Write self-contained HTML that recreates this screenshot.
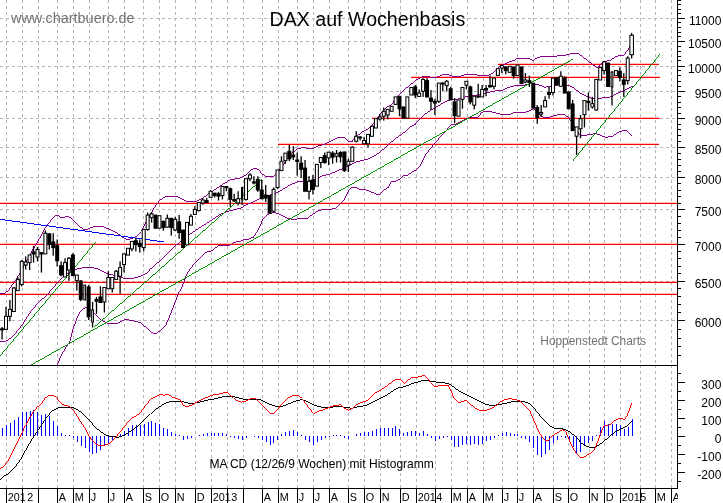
<!DOCTYPE html>
<html lang="de"><head><meta charset="utf-8"><title>DAX auf Wochenbasis</title>
<style>html,body{margin:0;padding:0;background:#fff;overflow:hidden}svg{display:block}text{will-change:transform}</style></head>
<body>
<svg width="723" height="503" viewBox="0 0 723 503" font-family='"Liberation Sans", sans-serif'>
<rect width="723" height="503" fill="#fff"/>
<g stroke="#b4b4b4" stroke-width="1" stroke-dasharray="3 3" fill="none" shape-rendering="crispEdges">
<path d="M6.5 0V365M6.5 365V488.4"/>
<path d="M22.5 0V365M22.5 365V488.4"/>
<path d="M38.5 0V365M38.5 365V488.4"/>
<path d="M57.5 0V365M57.5 365V488.4"/>
<path d="M73.5 0V365M73.5 365V488.4"/>
<path d="M89.5 0V365M89.5 365V488.4"/>
<path d="M108.5 0V365M108.5 365V488.4"/>
<path d="M124.5 0V365M124.5 365V488.4"/>
<path d="M143.5 0V365M143.5 365V488.4"/>
<path d="M159.5 0V365M159.5 365V488.4"/>
<path d="M175.5 0V365M175.5 365V488.4"/>
<path d="M195.5 0V365M195.5 365V488.4"/>
<path d="M211.5 0V365M211.5 365V488.4"/>
<path d="M227.5 0V365M227.5 365V488.4"/>
<path d="M243.5 0V365M243.5 365V488.4"/>
<path d="M262.5 0V365M262.5 365V488.4"/>
<path d="M278.5 0V365M278.5 365V488.4"/>
<path d="M297.5 0V365M297.5 365V488.4"/>
<path d="M313.5 0V365M313.5 365V488.4"/>
<path d="M329.5 0V365M329.5 365V488.4"/>
<path d="M348.5 0V365M348.5 365V488.4"/>
<path d="M364.5 0V365M364.5 365V488.4"/>
<path d="M380.5 0V365M380.5 365V488.4"/>
<path d="M400.5 0V365M400.5 365V488.4"/>
<path d="M416.5 0V365M416.5 365V488.4"/>
<path d="M435.5 0V365M435.5 365V488.4"/>
<path d="M451.5 0V365M451.5 365V488.4"/>
<path d="M467.5 0V365M467.5 365V488.4"/>
<path d="M483.5 0V365M483.5 365V488.4"/>
<path d="M502.5 0V365M502.5 365V488.4"/>
<path d="M517.5 0V365M517.5 365V488.4"/>
<path d="M533.5 0V365M533.5 365V488.4"/>
<path d="M553.5 0V365M553.5 365V488.4"/>
<path d="M568.5 0V365M568.5 365V488.4"/>
<path d="M589.5 0V365M589.5 365V488.4"/>
<path d="M604.5 0V365M604.5 365V488.4"/>
<path d="M620.5 0V365M620.5 365V488.4"/>
<path d="M640.5 0V365M640.5 365V488.4"/>
<path d="M655.5 0V365M655.5 365V488.4"/>
<path d="M671.5 0V365M671.5 365V488.4"/>
<path d="M0 18.5H676.5"/>
<path d="M0 41.5H676.5"/>
<path d="M0 66.5H676.5"/>
<path d="M0 91.5H676.5"/>
<path d="M0 118.5H676.5"/>
<path d="M0 147.5H676.5"/>
<path d="M0 177.5H676.5"/>
<path d="M0 209.5H676.5"/>
<path d="M0 244.5H676.5"/>
<path d="M0 281.5H676.5"/>
<path d="M0 320.5H676.5"/>
</g>
<defs><clipPath id="cp"><rect x="0" y="0" width="677.0" height="365.2"/></clipPath><clipPath id="cm"><rect x="0" y="365.2" width="677.0" height="123.2"/></clipPath></defs>
<g clip-path="url(#cp)">
<g stroke="#ff0000" stroke-width="1.2" fill="none">
<path d="M498 64.45H659"/>
<path d="M411 77.45H660"/>
<path d="M372 118.45H659.5"/>
<path d="M278 144.45H659"/>
<path d="M0 203.45H677.5"/>
<path d="M0 244.45H677.5"/>
<path d="M0 282.45H677.5"/>
<path d="M0 294.45H677.5"/>
</g>
<path d="M631 42.5h1M631 43.5h1M630 44.5h1M630 45.5h1M629 46.5h1M629 47.5h1M628 48.5h1M628 49.5h1M627 50.5h1M626 51.5h1M625 52.5h1M570 53.5h9M625 53.5h1M566 54.5h4M579 54.5h1M624 54.5h1M557 55.5h9M580 55.5h2M618 55.5h6M540 56.5h17M582 56.5h1M615 56.5h3M537 57.5h3M583 57.5h1M614 57.5h1M516 58.5h14M535 58.5h2M584 58.5h2M612 58.5h2M515 59.5h1M530 59.5h2M534 59.5h1M586 59.5h1M611 59.5h1M512 60.5h3M532 60.5h2M587 60.5h1M607 60.5h4M509 61.5h3M588 61.5h1M603 61.5h4M507 62.5h2M589 62.5h2M602 62.5h1M505 63.5h2M591 63.5h1M601 63.5h1M503 64.5h2M592 64.5h1M600 64.5h1M501 65.5h2M593 65.5h2M599 65.5h1M499 66.5h2M595 66.5h1M598 66.5h2M498 67.5h1M596 67.5h2M497 68.5h1M496 69.5h1M495 70.5h1M494 71.5h1M493 72.5h1M491 73.5h2M442 74.5h7M464 74.5h13M489 74.5h2M440 75.5h2M449 75.5h3M461 75.5h3M477 75.5h12M422 76.5h8M437 76.5h3M452 76.5h9M420 77.5h2M430 77.5h7M418 78.5h2M416 79.5h2M415 80.5h1M414 81.5h1M413 82.5h1M411 83.5h2M410 84.5h1M409 85.5h1M408 86.5h1M406 87.5h2M405 88.5h1M404 89.5h1M403 90.5h1M402 91.5h1M401 92.5h1M400 93.5h1M399 94.5h1M398 95.5h1M397 96.5h1M396 97.5h1M395 98.5h1M395 99.5h1M394 100.5h1M393 101.5h1M393 102.5h1M392 103.5h1M391 104.5h1M389 105.5h2M387 106.5h2M386 107.5h1M385 108.5h1M384 109.5h1M383 110.5h1M382 111.5h1M381 112.5h1M380 113.5h1M379 114.5h1M379 115.5h1M378 116.5h1M377 117.5h1M376 118.5h1M376 119.5h1M375 120.5h1M374 121.5h1M374 122.5h1M373 123.5h1M372 124.5h1M371 125.5h2M370 126.5h1M369 127.5h1M368 128.5h1M366 129.5h2M364 130.5h2M362 131.5h2M361 132.5h1M360 133.5h1M358 134.5h2M357 135.5h1M356 136.5h1M337 137.5h8M355 137.5h1M335 138.5h2M345 138.5h1M354 138.5h1M333 139.5h2M346 139.5h1M353 139.5h1M331 140.5h2M347 140.5h1M352 140.5h1M329 141.5h2M348 141.5h5M327 142.5h2M325 143.5h2M322 144.5h3M318 145.5h4M316 146.5h2M301 147.5h5M314 147.5h2M297 148.5h4M306 148.5h8M296 149.5h1M295 150.5h1M293 151.5h2M292 152.5h1M291 153.5h1M290 154.5h1M290 155.5h1M289 156.5h1M288 157.5h1M287 158.5h1M286 159.5h1M286 160.5h1M285 161.5h1M284 162.5h1M284 163.5h1M283 164.5h1M282 165.5h1M281 166.5h1M281 167.5h1M253 168.5h4M280 168.5h1M251 169.5h2M257 169.5h2M279 169.5h1M250 170.5h1M259 170.5h1M279 170.5h1M249 171.5h1M260 171.5h1M278 171.5h1M248 172.5h1M260 172.5h1M277 172.5h1M247 173.5h1M261 173.5h1M276 173.5h2M246 174.5h1M262 174.5h2M275 174.5h1M244 175.5h2M264 175.5h1M274 175.5h1M242 176.5h2M265 176.5h9M240 177.5h2M235 178.5h5M230 179.5h5M228 180.5h2M227 181.5h1M225 182.5h2M223 183.5h2M222 184.5h1M220 185.5h2M219 186.5h1M217 187.5h2M216 188.5h1M214 189.5h2M213 190.5h1M211 191.5h2M210 192.5h1M208 193.5h2M207 194.5h1M206 195.5h1M165 196.5h13M204 196.5h2M163 197.5h2M178 197.5h2M203 197.5h1M162 198.5h1M180 198.5h2M201 198.5h2M160 199.5h2M182 199.5h2M199 199.5h2M159 200.5h1M184 200.5h2M197 200.5h2M158 201.5h1M186 201.5h11M158 202.5h1M157 203.5h1M156 204.5h1M155 205.5h1M155 206.5h1M154 207.5h1M153 208.5h1M153 209.5h1M152 210.5h1M152 211.5h1M151 212.5h1M150 213.5h1M150 214.5h1M55 215.5h4M149 215.5h1M54 216.5h1M59 216.5h1M65 216.5h4M149 216.5h1M53 217.5h1M60 217.5h5M69 217.5h2M148 217.5h1M52 218.5h1M71 218.5h1M148 218.5h1M51 219.5h1M72 219.5h1M147 219.5h1M50 220.5h1M73 220.5h1M146 220.5h1M50 221.5h1M74 221.5h1M146 221.5h1M49 222.5h1M75 222.5h1M145 222.5h1M48 223.5h1M76 223.5h1M145 223.5h1M47 224.5h1M77 224.5h1M144 224.5h1M46 225.5h1M78 225.5h1M144 225.5h1M46 226.5h1M79 226.5h1M93 226.5h11M143 226.5h1M45 227.5h1M80 227.5h2M90 227.5h3M104 227.5h2M143 227.5h1M44 228.5h1M82 228.5h1M88 228.5h2M106 228.5h3M142 228.5h1M44 229.5h1M83 229.5h5M109 229.5h2M142 229.5h1M43 230.5h1M111 230.5h2M141 230.5h1M43 231.5h1M113 231.5h2M42 232.5h1M115 232.5h2M140 232.5h1M42 233.5h1M117 233.5h1M139 233.5h1M41 234.5h1M118 234.5h2M138 234.5h1M41 235.5h1M120 235.5h1M137 235.5h1M40 236.5h1M121 236.5h1M135 236.5h2M40 237.5h1M122 237.5h2M133 237.5h2M39 238.5h1M124 238.5h2M130 238.5h3M38 239.5h1M126 239.5h4M38 240.5h1M37 241.5h1M37 242.5h1M36 243.5h1M36 244.5h1M35 245.5h1M34 246.5h1M34 247.5h1M33 248.5h1M32 249.5h1M32 250.5h1M31 251.5h1M31 252.5h1M30 253.5h1M30 254.5h1M29 255.5h1M29 256.5h1M28 257.5h1M28 258.5h1M27 259.5h1M26 260.5h1M26 261.5h1M25 262.5h1M25 263.5h1M24 264.5h1M24 265.5h1M23 266.5h1M23 267.5h1M22 268.5h1M21 269.5h1M21 270.5h1M20 271.5h1M20 272.5h1M19 273.5h1M19 274.5h1M18 275.5h1M17 276.5h1M17 277.5h1M16 278.5h1M16 279.5h1M15 280.5h1M14 281.5h1M14 282.5h1M13 283.5h1M12 284.5h1M11 285.5h1M11 286.5h1M10 287.5h1M9 288.5h1M9 289.5h1M8 290.5h1M6 291.5h2M5 292.5h1M0 293.5h5" stroke="#880088" stroke-width="1" fill="none" shape-rendering="crispEdges"/>
<path d="M529 83.5h6M525 84.5h4M535 84.5h4M558 84.5h6M514 85.5h11M539 85.5h3M552 85.5h6M564 85.5h6M510 86.5h4M542 86.5h2M546 86.5h6M570 86.5h2M631 86.5h2M507 87.5h3M544 87.5h2M572 87.5h2M629 87.5h2M505 88.5h2M574 88.5h1M627 88.5h2M503 89.5h2M575 89.5h1M625 89.5h2M495 90.5h8M576 90.5h2M623 90.5h2M490 91.5h5M578 91.5h1M620 91.5h3M486 92.5h4M579 92.5h1M618 92.5h2M481 93.5h5M580 93.5h2M616 93.5h2M477 94.5h4M582 94.5h2M614 94.5h2M472 95.5h5M584 95.5h2M613 95.5h1M465 96.5h7M586 96.5h2M610 96.5h3M461 97.5h4M588 97.5h3M602 97.5h8M458 98.5h3M591 98.5h11M450 99.5h8M447 100.5h3M445 101.5h2M443 102.5h2M441 103.5h2M440 104.5h1M438 105.5h2M436 106.5h2M435 107.5h1M433 108.5h2M431 109.5h2M430 110.5h1M428 111.5h2M427 112.5h1M425 113.5h2M424 114.5h1M423 115.5h1M422 116.5h1M421 117.5h1M420 118.5h1M419 119.5h1M418 120.5h1M417 121.5h1M416 122.5h1M415 123.5h1M414 124.5h2M412 125.5h2M410 126.5h2M409 127.5h1M408 128.5h1M407 129.5h1M406 130.5h1M405 131.5h1M403 132.5h2M402 133.5h1M401 134.5h1M399 135.5h2M398 136.5h1M396 137.5h2M395 138.5h1M394 139.5h1M393 140.5h1M391 141.5h2M390 142.5h1M389 143.5h1M388 144.5h1M387 145.5h1M386 146.5h1M385 147.5h1M384 148.5h1M382 149.5h2M381 150.5h1M380 151.5h1M379 152.5h1M377 153.5h2M376 154.5h1M374 155.5h2M372 156.5h2M370 157.5h2M368 158.5h2M364 159.5h4M360 160.5h4M356 161.5h4M354 162.5h2M352 163.5h2M350 164.5h2M348 165.5h2M346 166.5h2M344 167.5h2M342 168.5h2M339 169.5h3M337 170.5h2M335 171.5h2M332 172.5h3M330 173.5h2M326 174.5h4M322 175.5h4M320 176.5h2M317 177.5h3M315 178.5h2M313 179.5h2M309 180.5h4M297 181.5h12M295 182.5h2M292 183.5h3M290 184.5h2M288 185.5h2M287 186.5h1M285 187.5h2M283 188.5h2M282 189.5h1M280 190.5h2M278 191.5h2M276 192.5h2M274 193.5h2M270 194.5h4M266 195.5h4M263 196.5h3M261 197.5h2M259 198.5h2M257 199.5h2M255 200.5h2M253 201.5h2M251 202.5h2M248 203.5h3M246 204.5h2M244 205.5h2M243 206.5h1M241 207.5h2M237 208.5h4M233 209.5h4M229 210.5h4M226 211.5h3M224 212.5h2M221 213.5h3M219 214.5h2M218 215.5h1M216 216.5h2M215 217.5h1M213 218.5h2M212 219.5h1M210 220.5h2M209 221.5h1M207 222.5h2M206 223.5h1M204 224.5h2M202 225.5h2M201 226.5h1M199 227.5h2M198 228.5h1M196 229.5h2M195 230.5h1M193 231.5h2M192 232.5h1M190 233.5h2M188 234.5h2M187 235.5h1M186 236.5h1M185 237.5h1M184 238.5h1M182 239.5h2M181 240.5h1M180 241.5h1M179 242.5h1M178 243.5h1M176 244.5h2M175 245.5h1M174 246.5h1M173 247.5h1M172 248.5h1M171 249.5h1M170 250.5h1M169 251.5h1M168 252.5h1M167 253.5h1M166 254.5h1M165 255.5h1M164 256.5h1M163 257.5h1M162 258.5h1M161 259.5h1M160 260.5h1M159 261.5h1M157 262.5h2M156 263.5h1M155 264.5h1M154 265.5h1M153 266.5h1M82 267.5h12M152 267.5h1M77 268.5h5M94 268.5h4M150 268.5h2M75 269.5h2M98 269.5h2M149 269.5h1M72 270.5h3M100 270.5h2M149 270.5h1M70 271.5h2M102 271.5h2M148 271.5h1M69 272.5h1M104 272.5h2M147 272.5h1M67 273.5h2M106 273.5h3M145 273.5h2M66 274.5h1M109 274.5h4M143 274.5h2M65 275.5h1M113 275.5h3M141 275.5h2M63 276.5h2M116 276.5h4M138 276.5h3M62 277.5h1M120 277.5h3M134 277.5h4M61 278.5h1M123 278.5h11M60 279.5h1M59 280.5h1M58 281.5h1M57 282.5h1M56 283.5h1M55 284.5h1M55 285.5h1M54 286.5h1M53 287.5h1M52 288.5h1M51 289.5h1M50 290.5h1M49 291.5h1M49 292.5h1M48 293.5h1M47 294.5h1M46 295.5h1M45 296.5h1M44 297.5h1M42 298.5h2M41 299.5h1M40 300.5h1M39 301.5h1M38 302.5h1M37 303.5h1M36 304.5h1M35 305.5h1M35 306.5h1M34 307.5h1M33 308.5h1M32 309.5h1M31 310.5h1M30 311.5h1M30 312.5h1M29 313.5h1M28 314.5h1M28 315.5h1M27 316.5h1M26 317.5h1M26 318.5h1M25 319.5h1M24 320.5h1M24 321.5h1M23 322.5h1M23 323.5h1M22 324.5h1M21 325.5h1M20 326.5h1M20 327.5h1M19 328.5h1M18 329.5h1M17 330.5h1M16 331.5h1M16 332.5h1M15 333.5h1M14 334.5h1M13 335.5h1M12 336.5h1M11 337.5h1M9 338.5h2M8 339.5h1M6 340.5h2M0 341.5h6" stroke="#880088" stroke-width="1" fill="none" shape-rendering="crispEdges"/>
<path d="M533 108.5h1M531 109.5h2M534 109.5h1M529 110.5h2M535 110.5h1M483 111.5h9M526 111.5h3M536 111.5h1M481 112.5h2M492 112.5h4M513 112.5h13M537 112.5h1M480 113.5h1M496 113.5h4M511 113.5h2M538 113.5h1M480 114.5h1M500 114.5h11M539 114.5h1M557 114.5h8M479 115.5h1M540 115.5h1M553 115.5h4M565 115.5h1M478 116.5h1M541 116.5h2M550 116.5h3M566 116.5h2M468 117.5h10M543 117.5h7M568 117.5h1M466 118.5h2M569 118.5h1M464 119.5h2M569 119.5h1M462 120.5h2M570 120.5h1M460 121.5h2M571 121.5h1M458 122.5h2M571 122.5h1M456 123.5h2M572 123.5h1M451 124.5h5M572 124.5h1M450 125.5h1M573 125.5h1M449 126.5h1M574 126.5h1M448 127.5h1M574 127.5h1M447 128.5h1M575 128.5h1M447 129.5h1M576 129.5h1M446 130.5h1M576 130.5h1M622 130.5h5M445 131.5h1M577 131.5h1M619 131.5h3M627 131.5h1M444 132.5h1M578 132.5h1M617 132.5h2M628 132.5h1M443 133.5h1M578 133.5h1M593 133.5h4M616 133.5h1M629 133.5h1M442 134.5h1M579 134.5h1M587 134.5h6M597 134.5h3M614 134.5h2M630 134.5h1M441 135.5h1M580 135.5h7M600 135.5h2M613 135.5h1M631 135.5h1M440 136.5h1M602 136.5h3M608 136.5h5M439 137.5h1M605 137.5h3M438 138.5h1M438 139.5h1M437 140.5h1M436 141.5h1M435 142.5h1M434 143.5h1M433 144.5h1M432 145.5h1M432 146.5h1M431 147.5h1M430 148.5h1M429 149.5h1M428 150.5h1M428 151.5h1M427 152.5h1M426 153.5h1M425 154.5h1M425 155.5h1M424 156.5h1M424 157.5h1M423 158.5h1M423 159.5h1M422 160.5h1M422 161.5h1M421 162.5h1M421 163.5h1M420 164.5h1M420 165.5h1M419 166.5h1M418 167.5h1M417 168.5h1M416 169.5h1M414 170.5h2M412 171.5h2M411 172.5h1M409 173.5h2M408 174.5h1M403 175.5h5M402 176.5h1M401 177.5h1M400 178.5h1M398 179.5h2M396 180.5h2M391 181.5h5M390 182.5h1M390 183.5h1M389 184.5h1M389 185.5h1M388 186.5h1M351 187.5h6M387 187.5h2M350 188.5h1M357 188.5h2M386 188.5h1M349 189.5h1M359 189.5h7M384 189.5h2M348 190.5h1M366 190.5h3M383 190.5h1M348 191.5h1M369 191.5h2M382 191.5h1M347 192.5h1M371 192.5h3M381 192.5h1M347 193.5h1M374 193.5h2M380 193.5h1M346 194.5h1M376 194.5h4M346 195.5h1M345 196.5h1M345 197.5h1M344 198.5h1M344 199.5h1M343 200.5h1M342 201.5h1M341 202.5h1M340 203.5h1M339 204.5h1M338 205.5h1M337 206.5h1M336 207.5h1M332 208.5h4M321 209.5h11M318 210.5h3M316 211.5h2M272 212.5h4M315 212.5h1M269 213.5h3M276 213.5h3M313 213.5h2M267 214.5h2M279 214.5h2M312 214.5h1M266 215.5h1M281 215.5h2M310 215.5h2M265 216.5h1M283 216.5h2M309 216.5h1M264 217.5h1M285 217.5h2M308 217.5h1M263 218.5h1M287 218.5h4M297 218.5h11M262 219.5h1M291 219.5h6M262 220.5h1M261 221.5h1M261 222.5h1M261 223.5h1M260 224.5h1M260 225.5h1M259 226.5h1M259 227.5h1M258 228.5h1M258 229.5h1M257 230.5h1M257 231.5h1M256 232.5h1M255 233.5h1M255 234.5h1M254 235.5h1M253 236.5h1M251 237.5h3M249 238.5h2M243 239.5h6M241 240.5h2M236 241.5h5M233 242.5h3M232 243.5h1M230 244.5h2M218 245.5h12M217 246.5h1M215 247.5h2M214 248.5h1M213 249.5h1M211 250.5h2M207 251.5h4M205 252.5h2M204 253.5h1M203 254.5h1M202 255.5h1M201 256.5h1M200 257.5h1M199 258.5h1M198 259.5h1M197 260.5h1M196 261.5h1M195 262.5h1M194 263.5h1M193 264.5h1M192 265.5h1M192 266.5h1M191 267.5h1M190 268.5h1M189 269.5h1M189 270.5h1M188 271.5h1M187 272.5h1M187 273.5h1M186 274.5h1M186 275.5h1M185 276.5h1M185 277.5h1M185 278.5h1M184 279.5h1M184 280.5h1M184 281.5h1M183 282.5h1M183 283.5h1M182 284.5h1M182 285.5h1M182 286.5h1M181 287.5h1M181 288.5h1M180 289.5h1M180 290.5h1M179 291.5h1M178 292.5h1M178 293.5h1M177 294.5h1M177 295.5h1M177 296.5h1M176 297.5h1M176 298.5h1M176 299.5h1M175 300.5h1M175 301.5h1M174 302.5h1M174 303.5h1M174 304.5h1M173 305.5h1M173 306.5h1M85 307.5h3M173 307.5h1M83 308.5h2M88 308.5h1M172 308.5h1M82 309.5h1M89 309.5h2M172 309.5h1M81 310.5h1M91 310.5h1M171 310.5h1M80 311.5h1M92 311.5h1M171 311.5h1M79 312.5h1M93 312.5h1M171 312.5h1M79 313.5h1M94 313.5h1M170 313.5h1M78 314.5h1M95 314.5h1M170 314.5h1M78 315.5h1M96 315.5h1M169 315.5h1M77 316.5h1M97 316.5h1M169 316.5h1M77 317.5h1M98 317.5h1M169 317.5h1M76 318.5h1M99 318.5h1M168 318.5h1M76 319.5h1M100 319.5h1M124 319.5h5M168 319.5h1M76 320.5h1M101 320.5h2M122 320.5h2M129 320.5h5M167 320.5h1M75 321.5h1M103 321.5h2M120 321.5h2M134 321.5h4M167 321.5h1M75 322.5h1M105 322.5h2M118 322.5h2M138 322.5h3M166 322.5h1M75 323.5h1M107 323.5h11M141 323.5h1M166 323.5h1M74 324.5h1M142 324.5h1M166 324.5h1M74 325.5h1M143 325.5h1M165 325.5h1M73 326.5h1M144 326.5h2M164 326.5h1M73 327.5h1M146 327.5h1M163 327.5h1M73 328.5h1M147 328.5h1M162 328.5h1M72 329.5h1M148 329.5h1M161 329.5h1M72 330.5h1M149 330.5h1M160 330.5h1M72 331.5h1M150 331.5h1M158 331.5h2M72 332.5h1M151 332.5h2M157 332.5h1M71 333.5h1M153 333.5h4M71 334.5h1M71 335.5h1M71 336.5h1M70 337.5h1M70 338.5h1M70 339.5h1M70 340.5h1M69 341.5h1M69 342.5h1M68 343.5h1M67 344.5h1M67 345.5h1M66 346.5h1M65 347.5h1M65 348.5h1M64 349.5h1M64 350.5h1M63 351.5h1M62 352.5h1M62 353.5h1M61 354.5h1M61 355.5h1M60 356.5h1M60 357.5h1M59 358.5h1M59 359.5h1M59 360.5h1M58 361.5h1M58 362.5h1M57 363.5h1M57 364.5h1" stroke="#880088" stroke-width="1" fill="none" shape-rendering="crispEdges"/>
<path d="M95 242.5h1M94 243.5h1M93 244.5h1M92 245.5h1M92 246.5h1M91 247.5h1M90 248.5h1M89 249.5h1M88 250.5h1M87 251.5h1M87 252.5h1M86 253.5h1M85 254.5h1M84 255.5h1M83 256.5h1M82 257.5h1M82 258.5h1M81 259.5h1M80 260.5h1M79 261.5h1M78 262.5h1M77 263.5h1M77 264.5h1M76 265.5h1M75 266.5h1M74 267.5h1M73 268.5h1M72 269.5h1M71 270.5h1M71 271.5h1M70 272.5h1M69 273.5h1M68 274.5h1M67 275.5h1M66 276.5h1M66 277.5h1M65 278.5h1M64 279.5h1M63 280.5h1M62 281.5h1M61 282.5h1M61 283.5h1M60 284.5h1M59 285.5h1M58 286.5h1M57 287.5h1M56 288.5h1M55 289.5h1M55 290.5h1M54 291.5h1M53 292.5h1M52 293.5h1M51 294.5h1M50 295.5h1M50 296.5h1M49 297.5h1M48 298.5h1M47 299.5h1M46 300.5h1M45 301.5h1M45 302.5h1M44 303.5h1M43 304.5h1M42 305.5h1M41 306.5h1M40 307.5h1M39 308.5h1M39 309.5h1M38 310.5h1M37 311.5h1M36 312.5h1M35 313.5h1M34 314.5h1M34 315.5h1M33 316.5h1M32 317.5h1M31 318.5h1M30 319.5h1M29 320.5h1M29 321.5h1M28 322.5h1M27 323.5h1M26 324.5h1M25 325.5h1M24 326.5h1M23 327.5h1M23 328.5h1M22 329.5h1M21 330.5h1M20 331.5h1M19 332.5h1M18 333.5h1M18 334.5h1M17 335.5h1M16 336.5h1M15 337.5h1M14 338.5h1M13 339.5h1M13 340.5h1M12 341.5h1M11 342.5h1M10 343.5h1M9 344.5h1M8 345.5h1M7 346.5h1M7 347.5h1M6 348.5h1M5 349.5h1M4 350.5h1M3 351.5h1M2 352.5h1M2 353.5h1M1 354.5h1M0 355.5h1" stroke="#009200" stroke-width="1" fill="none" shape-rendering="crispEdges"/>
<path d="M571 59.5h2M570 60.5h1M568 61.5h2M566 62.5h2M564 63.5h2M563 64.5h1M561 65.5h2M559 66.5h2M557 67.5h2M555 68.5h2M554 69.5h1M552 70.5h2M550 71.5h2M548 72.5h2M547 73.5h1M545 74.5h2M543 75.5h2M541 76.5h2M540 77.5h1M538 78.5h2M536 79.5h2M534 80.5h2M532 81.5h2M531 82.5h1M529 83.5h2M527 84.5h2M525 85.5h2M524 86.5h1M522 87.5h2M520 88.5h2M518 89.5h2M517 90.5h1M515 91.5h2M513 92.5h2M511 93.5h2M509 94.5h2M508 95.5h1M506 96.5h2M504 97.5h2M502 98.5h2M501 99.5h1M499 100.5h2M497 101.5h2M495 102.5h2M493 103.5h2M492 104.5h1M490 105.5h2M488 106.5h2M486 107.5h2M485 108.5h1M483 109.5h2M481 110.5h2M479 111.5h2M478 112.5h1M476 113.5h2M474 114.5h2M472 115.5h2M470 116.5h2M469 117.5h1M467 118.5h2M465 119.5h2M463 120.5h2M462 121.5h1M460 122.5h2M458 123.5h2M456 124.5h2M455 125.5h1M453 126.5h2M451 127.5h2M449 128.5h2M447 129.5h2M446 130.5h1M444 131.5h2M442 132.5h2M440 133.5h2M439 134.5h1M437 135.5h2M435 136.5h2M433 137.5h2M432 138.5h1M430 139.5h2M428 140.5h2M426 141.5h2M424 142.5h2M423 143.5h1M421 144.5h2M419 145.5h2M417 146.5h2M416 147.5h1M414 148.5h2M412 149.5h2M410 150.5h2M408 151.5h2M407 152.5h1M405 153.5h2M403 154.5h2M401 155.5h2M400 156.5h1M398 157.5h2M396 158.5h2M394 159.5h2M393 160.5h1M391 161.5h2M389 162.5h2M387 163.5h2M385 164.5h2M384 165.5h1M382 166.5h2M380 167.5h2M378 168.5h2M377 169.5h1M375 170.5h2M373 171.5h2M371 172.5h2M370 173.5h1M368 174.5h2M366 175.5h2M364 176.5h2M362 177.5h2M361 178.5h1M359 179.5h2M357 180.5h2M355 181.5h2M354 182.5h1M352 183.5h2M350 184.5h2M348 185.5h2M346 186.5h2M345 187.5h1M343 188.5h2M341 189.5h2M339 190.5h2M338 191.5h1M336 192.5h2M334 193.5h2M332 194.5h2M331 195.5h1M329 196.5h2M327 197.5h2M325 198.5h2M323 199.5h2M322 200.5h1M320 201.5h2M318 202.5h2M316 203.5h2M315 204.5h1M313 205.5h2M311 206.5h2M309 207.5h2M308 208.5h1M306 209.5h2M304 210.5h2M302 211.5h2M300 212.5h2M299 213.5h1M297 214.5h2M295 215.5h2M293 216.5h2M292 217.5h1M290 218.5h2M288 219.5h2M286 220.5h2M284 221.5h2M283 222.5h1M281 223.5h2M279 224.5h2M277 225.5h2M276 226.5h1M274 227.5h2M272 228.5h2M270 229.5h2M269 230.5h1M267 231.5h2M265 232.5h2M263 233.5h2M261 234.5h2M260 235.5h1M258 236.5h2M256 237.5h2M254 238.5h2M253 239.5h1M251 240.5h2M249 241.5h2M247 242.5h2M246 243.5h1M244 244.5h2M242 245.5h2M240 246.5h2M238 247.5h2M237 248.5h1M235 249.5h2M233 250.5h2M231 251.5h2M230 252.5h1M228 253.5h2M226 254.5h2M224 255.5h2M222 256.5h2M221 257.5h1M219 258.5h2M217 259.5h2M215 260.5h2M214 261.5h1M212 262.5h2M210 263.5h2M208 264.5h2M207 265.5h1M205 266.5h2M203 267.5h2M201 268.5h2M199 269.5h2M198 270.5h1M196 271.5h2M194 272.5h2M192 273.5h2M191 274.5h1M189 275.5h2M187 276.5h2M185 277.5h2M184 278.5h1M182 279.5h2M180 280.5h2M178 281.5h2M176 282.5h2M175 283.5h1M173 284.5h2M171 285.5h2M169 286.5h2M168 287.5h1M166 288.5h2M164 289.5h2M162 290.5h2M160 291.5h2M159 292.5h1M157 293.5h2M155 294.5h2M153 295.5h2M152 296.5h1M150 297.5h2M148 298.5h2M146 299.5h2M145 300.5h1M143 301.5h2M141 302.5h2M139 303.5h2M137 304.5h2M136 305.5h1M134 306.5h2M132 307.5h2M130 308.5h2M129 309.5h1M127 310.5h2M125 311.5h2M123 312.5h2M122 313.5h1M120 314.5h2M118 315.5h2M116 316.5h2M114 317.5h2M113 318.5h1M111 319.5h2M109 320.5h2M107 321.5h2M106 322.5h1M104 323.5h2M102 324.5h2M100 325.5h2M98 326.5h2M97 327.5h1M95 328.5h2M93 329.5h2M91 330.5h2M90 331.5h1M88 332.5h2M86 333.5h2M84 334.5h2M83 335.5h1M81 336.5h2M79 337.5h2M77 338.5h2M75 339.5h2M74 340.5h1M72 341.5h2M70 342.5h2M68 343.5h2M67 344.5h1M65 345.5h2M63 346.5h2M61 347.5h2M60 348.5h1M58 349.5h2M56 350.5h2M54 351.5h2M52 352.5h2M51 353.5h1M49 354.5h2M47 355.5h2M45 356.5h2M44 357.5h1M42 358.5h2M40 359.5h2M38 360.5h2M36 361.5h2M35 362.5h1M33 363.5h2M31 364.5h2" stroke="#009200" stroke-width="1" fill="none" shape-rendering="crispEdges"/>
<path d="M261 179.5h1M260 180.5h1M259 181.5h1M258 182.5h1M257 183.5h1M256 184.5h1M255 185.5h1M253 186.5h2M252 187.5h1M251 188.5h1M250 189.5h1M249 190.5h1M248 191.5h1M247 192.5h1M245 193.5h2M244 194.5h1M243 195.5h1M242 196.5h1M241 197.5h1M240 198.5h1M239 199.5h1M237 200.5h2M236 201.5h1M235 202.5h1M234 203.5h1M233 204.5h1M232 205.5h1M231 206.5h1M230 207.5h1M228 208.5h2M227 209.5h1M226 210.5h1M225 211.5h1M224 212.5h1M223 213.5h1M222 214.5h1M220 215.5h2M219 216.5h1M218 217.5h1M217 218.5h1M216 219.5h1M215 220.5h1M214 221.5h1M212 222.5h2M211 223.5h1M210 224.5h1M209 225.5h1M208 226.5h1M207 227.5h1M206 228.5h1M205 229.5h1M203 230.5h2M202 231.5h1M201 232.5h1M200 233.5h1M199 234.5h1M198 235.5h1M197 236.5h1M195 237.5h2M194 238.5h1M193 239.5h1M192 240.5h1M191 241.5h1M190 242.5h1M189 243.5h1M187 244.5h2M186 245.5h1M185 246.5h1M184 247.5h1M183 248.5h1M182 249.5h1M181 250.5h1M180 251.5h1M178 252.5h2M177 253.5h1M176 254.5h1M175 255.5h1M174 256.5h1M173 257.5h1M172 258.5h1M170 259.5h2M169 260.5h1M168 261.5h1M167 262.5h1M166 263.5h1M165 264.5h1M164 265.5h1M162 266.5h2M161 267.5h1M160 268.5h1M159 269.5h1M158 270.5h1M157 271.5h1M156 272.5h1M155 273.5h1M153 274.5h2M152 275.5h1M151 276.5h1M150 277.5h1M149 278.5h1M148 279.5h1M147 280.5h1M145 281.5h2M144 282.5h1M143 283.5h1M142 284.5h1M141 285.5h1M140 286.5h1M139 287.5h1M137 288.5h2M136 289.5h1M135 290.5h1M134 291.5h1M133 292.5h1M132 293.5h1M131 294.5h1M130 295.5h1M128 296.5h2M127 297.5h1M126 298.5h1M125 299.5h1M124 300.5h1M123 301.5h1M122 302.5h1M120 303.5h2M119 304.5h1M118 305.5h1M117 306.5h1M116 307.5h1M115 308.5h1M114 309.5h1M112 310.5h2M111 311.5h1M110 312.5h1M109 313.5h1M108 314.5h1M107 315.5h1M106 316.5h1M105 317.5h1M103 318.5h2M102 319.5h1M101 320.5h1M100 321.5h1M99 322.5h1M98 323.5h1M97 324.5h1M95 325.5h2M94 326.5h1" stroke="#009200" stroke-width="1" fill="none" shape-rendering="crispEdges"/>
<path d="M659 54.5h1M658 55.5h1M658 56.5h1M657 57.5h1M656 58.5h1M655 59.5h1M654 60.5h1M654 61.5h1M653 62.5h1M652 63.5h1M651 64.5h1M650 65.5h1M649 66.5h1M649 67.5h1M648 68.5h1M647 69.5h1M646 70.5h1M645 71.5h1M645 72.5h1M644 73.5h1M643 74.5h1M642 75.5h1M641 76.5h1M640 77.5h1M640 78.5h1M639 79.5h1M638 80.5h1M637 81.5h1M636 82.5h1M636 83.5h1M635 84.5h1M634 85.5h1M633 86.5h1M632 87.5h1M631 88.5h1M631 89.5h1M630 90.5h1M629 91.5h1M628 92.5h1M627 93.5h1M627 94.5h1M626 95.5h1M625 96.5h1M624 97.5h1M623 98.5h1M622 99.5h1M622 100.5h1M621 101.5h1M620 102.5h1M619 103.5h1M618 104.5h1M618 105.5h1M617 106.5h1M616 107.5h1M615 108.5h1M614 109.5h1M614 110.5h1M613 111.5h1M612 112.5h1M611 113.5h1M610 114.5h1M609 115.5h1M609 116.5h1M608 117.5h1M607 118.5h1M606 119.5h1M605 120.5h1M605 121.5h1M604 122.5h1M603 123.5h1M602 124.5h1M601 125.5h1M600 126.5h1M600 127.5h1M599 128.5h1M598 129.5h1M597 130.5h1M596 131.5h1M596 132.5h1M595 133.5h1M594 134.5h1M593 135.5h1M592 136.5h1M591 137.5h1M591 138.5h1M590 139.5h1M589 140.5h1M588 141.5h1M587 142.5h1M587 143.5h1M586 144.5h1M585 145.5h1M584 146.5h1M583 147.5h1M582 148.5h1M582 149.5h1M581 150.5h1M580 151.5h1M579 152.5h1M578 153.5h1M578 154.5h1M577 155.5h1M576 156.5h1M575 157.5h1M574 158.5h1M573 159.5h1M573 160.5h1" stroke="#009200" stroke-width="1" fill="none" shape-rendering="crispEdges"/>
<path d="M0 219.5h5M5 220.5h7M12 221.5h8M20 222.5h7M27 223.5h7M34 224.5h7M41 225.5h8M49 226.5h7M56 227.5h7M63 228.5h7M70 229.5h8M78 230.5h7M85 231.5h7M92 232.5h7M99 233.5h7M106 234.5h8M114 235.5h7M121 236.5h7M128 237.5h7M135 238.5h8M143 239.5h7M150 240.5h7M157 241.5h7" stroke="#0000ff" stroke-width="1" fill="none" shape-rendering="crispEdges"/>
<g fill="#000">
<rect x="1.42" y="327.0" width="1.3" height="12.4"/>
<rect x="0.06" y="328.3" width="4.0" height="2.1"/>
<rect x="5.35" y="306.9" width="1.3" height="22.5"/>
<rect x="4.00" y="315.8" width="4.0" height="14.1"/>
<rect x="9.29" y="300.0" width="1.3" height="21.3"/>
<rect x="7.94" y="308.9" width="4.0" height="7.9"/>
<rect x="13.22" y="287.0" width="1.3" height="24.5"/>
<rect x="11.87" y="287.5" width="4.0" height="24.5"/>
<rect x="17.16" y="277.0" width="1.3" height="13.6"/>
<rect x="15.80" y="279.0" width="4.0" height="12.1"/>
<rect x="21.09" y="260.0" width="1.3" height="26.4"/>
<rect x="19.74" y="260.9" width="4.0" height="24.1"/>
<rect x="25.03" y="256.4" width="1.3" height="13.1"/>
<rect x="23.68" y="261.5" width="4.0" height="4.0"/>
<rect x="28.96" y="254.8" width="1.3" height="15.2"/>
<rect x="27.61" y="254.5" width="4.0" height="8.6"/>
<rect x="32.90" y="245.8" width="1.3" height="16.8"/>
<rect x="31.55" y="251.5" width="4.0" height="3.0"/>
<rect x="36.83" y="247.0" width="1.3" height="14.4"/>
<rect x="35.48" y="249.0" width="4.0" height="8.5"/>
<rect x="40.77" y="252.0" width="1.3" height="20.6"/>
<rect x="39.41" y="252.1" width="4.0" height="2.4"/>
<rect x="44.70" y="230.3" width="1.3" height="23.6"/>
<rect x="43.35" y="232.7" width="4.0" height="21.7"/>
<rect x="48.64" y="233.0" width="1.3" height="16.5"/>
<rect x="47.29" y="233.4" width="4.0" height="11.6"/>
<rect x="52.57" y="233.2" width="1.3" height="22.5"/>
<rect x="51.22" y="241.5" width="4.0" height="6.6"/>
<rect x="56.51" y="239.5" width="1.3" height="26.9"/>
<rect x="55.16" y="245.2" width="4.0" height="16.0"/>
<rect x="60.44" y="261.4" width="1.3" height="15.0"/>
<rect x="59.09" y="265.2" width="4.0" height="10.2"/>
<rect x="64.38" y="258.2" width="1.3" height="18.8"/>
<rect x="63.03" y="262.1" width="4.0" height="15.4"/>
<rect x="68.31" y="257.0" width="1.3" height="23.8"/>
<rect x="66.96" y="257.8" width="4.0" height="12.8"/>
<rect x="72.24" y="253.2" width="1.3" height="22.4"/>
<rect x="70.89" y="254.5" width="4.0" height="21.6"/>
<rect x="76.18" y="275.0" width="1.3" height="15.6"/>
<rect x="74.83" y="274.5" width="4.0" height="6.6"/>
<rect x="80.11" y="280.0" width="1.3" height="21.2"/>
<rect x="78.77" y="280.5" width="4.0" height="19.4"/>
<rect x="84.05" y="285.0" width="1.3" height="15.0"/>
<rect x="83.30" y="284.5" width="2.8" height="16.0"/>
<rect x="87.98" y="285.0" width="1.3" height="35.0"/>
<rect x="86.64" y="286.4" width="4.0" height="31.0"/>
<rect x="91.92" y="301.9" width="1.3" height="25.6"/>
<rect x="91.17" y="309.5" width="2.8" height="13.0"/>
<rect x="95.85" y="296.9" width="1.3" height="16.9"/>
<rect x="94.50" y="298.9" width="4.0" height="2.9"/>
<rect x="99.79" y="286.2" width="1.3" height="16.2"/>
<rect x="98.44" y="296.4" width="4.0" height="6.6"/>
<rect x="103.72" y="287.5" width="1.3" height="25.0"/>
<rect x="102.38" y="287.0" width="4.0" height="15.4"/>
<rect x="107.66" y="271.2" width="1.3" height="17.5"/>
<rect x="106.31" y="277.0" width="4.0" height="12.2"/>
<rect x="111.59" y="277.5" width="1.3" height="15.0"/>
<rect x="110.25" y="277.0" width="4.0" height="12.2"/>
<rect x="115.53" y="270.0" width="1.3" height="9.4"/>
<rect x="114.18" y="270.8" width="4.0" height="9.1"/>
<rect x="119.46" y="261.4" width="1.3" height="32.4"/>
<rect x="118.11" y="267.1" width="4.0" height="9.6"/>
<rect x="123.40" y="253.9" width="1.3" height="18.6"/>
<rect x="122.05" y="253.4" width="4.0" height="11.6"/>
<rect x="127.33" y="248.2" width="1.3" height="6.8"/>
<rect x="125.98" y="247.8" width="4.0" height="7.8"/>
<rect x="131.27" y="241.4" width="1.3" height="10.0"/>
<rect x="129.92" y="240.9" width="4.0" height="8.5"/>
<rect x="135.20" y="237.6" width="1.3" height="13.8"/>
<rect x="133.85" y="240.2" width="4.0" height="4.8"/>
<rect x="139.14" y="239.5" width="1.3" height="13.1"/>
<rect x="137.79" y="242.8" width="4.0" height="4.2"/>
<rect x="143.07" y="229.0" width="1.3" height="22.4"/>
<rect x="141.72" y="229.0" width="4.0" height="19.1"/>
<rect x="147.01" y="212.6" width="1.3" height="18.2"/>
<rect x="145.66" y="214.6" width="4.0" height="15.4"/>
<rect x="150.94" y="212.0" width="1.3" height="10.6"/>
<rect x="149.59" y="213.4" width="4.0" height="4.7"/>
<rect x="154.88" y="215.1" width="1.3" height="13.2"/>
<rect x="153.53" y="214.6" width="4.0" height="14.2"/>
<rect x="158.81" y="215.8" width="1.3" height="12.5"/>
<rect x="157.47" y="215.2" width="4.0" height="13.5"/>
<rect x="162.75" y="220.5" width="1.3" height="10.2"/>
<rect x="161.40" y="220.9" width="4.0" height="7.2"/>
<rect x="166.69" y="214.5" width="1.3" height="13.0"/>
<rect x="165.34" y="217.8" width="4.0" height="9.8"/>
<rect x="170.62" y="218.1" width="1.3" height="17.5"/>
<rect x="169.27" y="217.8" width="4.0" height="10.3"/>
<rect x="174.56" y="216.9" width="1.3" height="14.3"/>
<rect x="173.21" y="218.9" width="4.0" height="11.6"/>
<rect x="178.49" y="215.0" width="1.3" height="23.8"/>
<rect x="177.14" y="221.4" width="4.0" height="11.6"/>
<rect x="182.42" y="230.0" width="1.3" height="17.5"/>
<rect x="181.07" y="229.5" width="4.0" height="18.5"/>
<rect x="186.36" y="222.5" width="1.3" height="22.3"/>
<rect x="185.01" y="222.0" width="4.0" height="23.3"/>
<rect x="190.29" y="214.0" width="1.3" height="11.0"/>
<rect x="188.94" y="215.8" width="4.0" height="9.8"/>
<rect x="194.23" y="206.2" width="1.3" height="8.2"/>
<rect x="192.88" y="208.9" width="4.0" height="6.0"/>
<rect x="198.16" y="202.5" width="1.3" height="9.0"/>
<rect x="196.81" y="202.0" width="4.0" height="9.1"/>
<rect x="202.10" y="198.1" width="1.3" height="6.7"/>
<rect x="200.75" y="199.5" width="4.0" height="4.0"/>
<rect x="206.03" y="198.1" width="1.3" height="4.4"/>
<rect x="204.69" y="200.1" width="4.0" height="2.9"/>
<rect x="209.97" y="190.0" width="1.3" height="7.2"/>
<rect x="208.62" y="190.8" width="4.0" height="7.0"/>
<rect x="213.91" y="193.1" width="1.3" height="4.4"/>
<rect x="212.56" y="192.6" width="4.0" height="3.5"/>
<rect x="217.84" y="191.9" width="1.3" height="8.7"/>
<rect x="216.49" y="193.2" width="4.0" height="3.5"/>
<rect x="221.78" y="186.5" width="1.3" height="12.9"/>
<rect x="220.43" y="186.0" width="4.0" height="10.1"/>
<rect x="225.71" y="186.0" width="1.3" height="5.2"/>
<rect x="224.36" y="186.0" width="4.0" height="2.0"/>
<rect x="229.65" y="187.5" width="1.3" height="19.4"/>
<rect x="228.30" y="188.2" width="4.0" height="11.7"/>
<rect x="233.58" y="193.8" width="1.3" height="8.2"/>
<rect x="232.23" y="199.0" width="4.0" height="2.5"/>
<rect x="237.51" y="191.2" width="1.3" height="14.3"/>
<rect x="236.16" y="198.2" width="4.0" height="5.3"/>
<rect x="241.45" y="186.9" width="1.3" height="18.1"/>
<rect x="241.00" y="187.0" width="2.2" height="12.5"/>
<rect x="245.38" y="178.8" width="1.3" height="21.8"/>
<rect x="244.03" y="178.2" width="4.0" height="21.7"/>
<rect x="249.32" y="173.1" width="1.3" height="8.2"/>
<rect x="247.97" y="174.5" width="4.0" height="4.8"/>
<rect x="253.25" y="176.2" width="1.3" height="8.2"/>
<rect x="251.91" y="181.4" width="4.0" height="2.1"/>
<rect x="257.19" y="176.2" width="1.3" height="15.7"/>
<rect x="255.84" y="178.9" width="4.0" height="11.6"/>
<rect x="261.12" y="180.0" width="1.3" height="18.8"/>
<rect x="259.77" y="189.5" width="4.0" height="9.8"/>
<rect x="265.06" y="185.0" width="1.3" height="16.9"/>
<rect x="263.71" y="194.5" width="4.0" height="4.1"/>
<rect x="269.00" y="195.6" width="1.3" height="17.5"/>
<rect x="267.64" y="195.1" width="4.0" height="18.5"/>
<rect x="272.93" y="187.5" width="1.3" height="25.0"/>
<rect x="271.58" y="188.9" width="4.0" height="22.8"/>
<rect x="276.87" y="170.0" width="1.3" height="18.8"/>
<rect x="275.51" y="169.5" width="4.0" height="18.5"/>
<rect x="280.80" y="156.2" width="1.3" height="14.3"/>
<rect x="279.45" y="160.8" width="4.0" height="10.3"/>
<rect x="284.74" y="153.1" width="1.3" height="10.7"/>
<rect x="283.38" y="152.6" width="4.0" height="8.5"/>
<rect x="288.67" y="145.0" width="1.3" height="16.2"/>
<rect x="287.32" y="150.8" width="4.0" height="8.5"/>
<rect x="292.61" y="146.2" width="1.3" height="13.8"/>
<rect x="291.25" y="154.5" width="4.0" height="2.9"/>
<rect x="296.54" y="152.5" width="1.3" height="23.1"/>
<rect x="295.19" y="159.5" width="4.0" height="2.5"/>
<rect x="300.48" y="156.2" width="1.3" height="21.8"/>
<rect x="299.12" y="162.6" width="4.0" height="7.3"/>
<rect x="304.41" y="160.0" width="1.3" height="31.2"/>
<rect x="303.06" y="167.6" width="4.0" height="24.2"/>
<rect x="308.35" y="176.2" width="1.3" height="23.2"/>
<rect x="307.00" y="180.8" width="4.0" height="11.0"/>
<rect x="312.28" y="175.0" width="1.3" height="19.4"/>
<rect x="310.93" y="179.5" width="4.0" height="10.4"/>
<rect x="316.22" y="164.4" width="1.3" height="21.8"/>
<rect x="314.87" y="163.9" width="4.0" height="22.8"/>
<rect x="320.15" y="157.5" width="1.3" height="10.6"/>
<rect x="318.80" y="157.0" width="4.0" height="6.0"/>
<rect x="324.09" y="152.5" width="1.3" height="11.2"/>
<rect x="322.74" y="155.1" width="4.0" height="7.9"/>
<rect x="328.02" y="151.9" width="1.3" height="13.1"/>
<rect x="326.67" y="151.7" width="4.0" height="6.6"/>
<rect x="331.96" y="151.2" width="1.3" height="12.5"/>
<rect x="330.61" y="152.6" width="4.0" height="5.1"/>
<rect x="335.89" y="150.0" width="1.3" height="12.5"/>
<rect x="334.54" y="153.2" width="4.0" height="3.5"/>
<rect x="339.83" y="151.2" width="1.3" height="11.2"/>
<rect x="338.48" y="152.0" width="4.0" height="5.4"/>
<rect x="343.76" y="151.9" width="1.3" height="20.0"/>
<rect x="342.41" y="151.4" width="4.0" height="19.7"/>
<rect x="347.70" y="158.8" width="1.3" height="13.2"/>
<rect x="346.35" y="160.8" width="4.0" height="4.8"/>
<rect x="351.63" y="146.2" width="1.3" height="15.0"/>
<rect x="350.28" y="146.7" width="4.0" height="15.1"/>
<rect x="355.57" y="131.2" width="1.3" height="11.2"/>
<rect x="354.22" y="135.8" width="4.0" height="6.0"/>
<rect x="359.50" y="136.2" width="1.3" height="4.3"/>
<rect x="358.15" y="136.5" width="4.0" height="2.0"/>
<rect x="363.44" y="136.9" width="1.3" height="6.8"/>
<rect x="362.08" y="140.1" width="4.0" height="4.2"/>
<rect x="367.37" y="134.4" width="1.3" height="13.1"/>
<rect x="366.02" y="133.9" width="4.0" height="10.3"/>
<rect x="371.31" y="126.2" width="1.3" height="10.0"/>
<rect x="369.95" y="125.8" width="4.0" height="11.0"/>
<rect x="375.24" y="118.8" width="1.3" height="9.3"/>
<rect x="373.89" y="118.2" width="4.0" height="10.3"/>
<rect x="379.18" y="114.4" width="1.3" height="6.2"/>
<rect x="377.82" y="116.5" width="4.0" height="3.0"/>
<rect x="383.11" y="107.5" width="1.3" height="13.1"/>
<rect x="381.76" y="110.8" width="4.0" height="6.0"/>
<rect x="387.05" y="109.4" width="1.3" height="10.0"/>
<rect x="385.69" y="108.9" width="4.0" height="6.6"/>
<rect x="390.98" y="106.2" width="1.3" height="5.0"/>
<rect x="389.63" y="105.8" width="4.0" height="6.0"/>
<rect x="394.92" y="96.9" width="1.3" height="7.5"/>
<rect x="393.56" y="96.4" width="4.0" height="8.5"/>
<rect x="398.85" y="96.2" width="1.3" height="20.0"/>
<rect x="397.50" y="95.8" width="4.0" height="13.5"/>
<rect x="402.79" y="106.9" width="1.3" height="11.2"/>
<rect x="401.44" y="106.4" width="4.0" height="12.2"/>
<rect x="406.72" y="96.9" width="1.3" height="21.2"/>
<rect x="405.37" y="96.4" width="4.0" height="22.2"/>
<rect x="410.66" y="87.5" width="1.3" height="7.5"/>
<rect x="409.31" y="87.0" width="4.0" height="8.5"/>
<rect x="414.59" y="85.0" width="1.3" height="13.1"/>
<rect x="413.24" y="86.4" width="4.0" height="9.1"/>
<rect x="418.53" y="89.4" width="1.3" height="7.1"/>
<rect x="417.18" y="92.6" width="4.0" height="4.4"/>
<rect x="422.46" y="78.1" width="1.3" height="18.8"/>
<rect x="421.11" y="78.9" width="4.0" height="12.8"/>
<rect x="426.40" y="78.1" width="1.3" height="19.4"/>
<rect x="425.05" y="80.1" width="4.0" height="17.3"/>
<rect x="430.33" y="90.0" width="1.3" height="20.0"/>
<rect x="428.98" y="97.6" width="4.0" height="4.2"/>
<rect x="434.27" y="98.8" width="1.3" height="16.2"/>
<rect x="432.92" y="100.8" width="4.0" height="2.8"/>
<rect x="438.20" y="83.1" width="1.3" height="19.9"/>
<rect x="436.85" y="82.6" width="4.0" height="19.2"/>
<rect x="442.14" y="82.5" width="1.3" height="8.8"/>
<rect x="440.79" y="82.5" width="4.0" height="2.0"/>
<rect x="446.07" y="80.0" width="1.3" height="11.2"/>
<rect x="444.72" y="80.8" width="4.0" height="5.3"/>
<rect x="450.01" y="86.9" width="1.3" height="13.1"/>
<rect x="448.66" y="88.2" width="4.0" height="12.2"/>
<rect x="453.94" y="98.1" width="1.3" height="25.0"/>
<rect x="452.59" y="101.4" width="4.0" height="14.7"/>
<rect x="457.88" y="100.0" width="1.3" height="16.2"/>
<rect x="456.53" y="99.5" width="4.0" height="17.2"/>
<rect x="461.81" y="87.5" width="1.3" height="21.2"/>
<rect x="460.46" y="87.0" width="4.0" height="12.9"/>
<rect x="465.75" y="81.2" width="1.3" height="8.2"/>
<rect x="464.39" y="80.8" width="4.0" height="4.8"/>
<rect x="469.68" y="85.6" width="1.3" height="18.8"/>
<rect x="468.33" y="86.4" width="4.0" height="16.0"/>
<rect x="473.62" y="96.2" width="1.3" height="13.2"/>
<rect x="472.26" y="95.8" width="4.0" height="9.8"/>
<rect x="477.55" y="83.8" width="1.3" height="14.3"/>
<rect x="476.20" y="95.5" width="4.0" height="2.0"/>
<rect x="481.49" y="85.0" width="1.3" height="11.9"/>
<rect x="480.13" y="88.9" width="4.0" height="8.5"/>
<rect x="485.42" y="85.0" width="1.3" height="11.2"/>
<rect x="484.07" y="88.0" width="4.0" height="2.5"/>
<rect x="489.36" y="75.6" width="1.3" height="11.9"/>
<rect x="488.00" y="85.1" width="4.0" height="2.3"/>
<rect x="493.29" y="78.1" width="1.3" height="11.3"/>
<rect x="491.94" y="77.6" width="4.0" height="9.2"/>
<rect x="497.23" y="68.8" width="1.3" height="6.8"/>
<rect x="495.88" y="68.2" width="4.0" height="7.8"/>
<rect x="501.16" y="64.5" width="1.3" height="8.6"/>
<rect x="499.81" y="65.0" width="4.0" height="3.5"/>
<rect x="505.10" y="66.9" width="1.3" height="7.5"/>
<rect x="503.75" y="66.4" width="4.0" height="4.7"/>
<rect x="509.03" y="66.2" width="1.3" height="6.0"/>
<rect x="507.68" y="65.8" width="4.0" height="7.0"/>
<rect x="512.97" y="66.9" width="1.3" height="11.8"/>
<rect x="511.62" y="66.4" width="4.0" height="9.7"/>
<rect x="516.90" y="65.0" width="1.3" height="10.6"/>
<rect x="515.55" y="64.5" width="4.0" height="11.6"/>
<rect x="520.84" y="66.9" width="1.3" height="16.8"/>
<rect x="519.49" y="66.4" width="4.0" height="17.8"/>
<rect x="524.77" y="73.1" width="1.3" height="10.0"/>
<rect x="523.42" y="79.5" width="4.0" height="3.0"/>
<rect x="528.71" y="75.6" width="1.3" height="11.3"/>
<rect x="527.36" y="80.1" width="4.0" height="2.9"/>
<rect x="532.64" y="83.1" width="1.3" height="25.0"/>
<rect x="531.29" y="82.6" width="4.0" height="26.0"/>
<rect x="536.58" y="105.0" width="1.3" height="18.8"/>
<rect x="535.23" y="107.0" width="4.0" height="11.0"/>
<rect x="540.51" y="105.0" width="1.3" height="11.9"/>
<rect x="539.16" y="112.0" width="4.0" height="2.5"/>
<rect x="544.45" y="96.2" width="1.3" height="10.7"/>
<rect x="543.10" y="100.1" width="4.0" height="7.3"/>
<rect x="548.38" y="86.9" width="1.3" height="11.8"/>
<rect x="547.03" y="92.0" width="4.0" height="2.9"/>
<rect x="552.32" y="78.1" width="1.3" height="17.5"/>
<rect x="550.97" y="77.6" width="4.0" height="15.4"/>
<rect x="556.25" y="77.8" width="1.3" height="7.2"/>
<rect x="554.90" y="77.2" width="4.0" height="8.2"/>
<rect x="560.19" y="71.2" width="1.3" height="15.0"/>
<rect x="558.84" y="75.8" width="4.0" height="11.0"/>
<rect x="564.12" y="76.2" width="1.3" height="16.8"/>
<rect x="562.77" y="77.6" width="4.0" height="16.0"/>
<rect x="568.06" y="91.9" width="1.3" height="16.8"/>
<rect x="566.71" y="91.4" width="4.0" height="17.8"/>
<rect x="571.99" y="100.0" width="1.3" height="30.6"/>
<rect x="570.64" y="103.5" width="4.0" height="27.6"/>
<rect x="575.93" y="126.9" width="1.3" height="28.1"/>
<rect x="574.58" y="126.4" width="4.0" height="10.3"/>
<rect x="579.86" y="115.0" width="1.3" height="23.1"/>
<rect x="578.51" y="118.2" width="4.0" height="11.0"/>
<rect x="583.80" y="100.6" width="1.3" height="26.9"/>
<rect x="582.45" y="100.1" width="4.0" height="15.0"/>
<rect x="587.73" y="92.5" width="1.3" height="18.1"/>
<rect x="586.38" y="100.8" width="4.0" height="2.2"/>
<rect x="591.67" y="96.9" width="1.3" height="11.8"/>
<rect x="590.32" y="103.2" width="4.0" height="4.2"/>
<rect x="595.60" y="79.4" width="1.3" height="31.2"/>
<rect x="594.25" y="78.9" width="4.0" height="31.6"/>
<rect x="599.54" y="67.5" width="1.3" height="12.5"/>
<rect x="598.19" y="67.0" width="4.0" height="13.5"/>
<rect x="603.47" y="61.9" width="1.3" height="12.5"/>
<rect x="602.12" y="61.4" width="4.0" height="9.7"/>
<rect x="607.41" y="63.1" width="1.3" height="23.4"/>
<rect x="606.06" y="62.6" width="4.0" height="24.4"/>
<rect x="611.34" y="71.2" width="1.3" height="34.3"/>
<rect x="610.59" y="71.5" width="2.8" height="15.9"/>
<rect x="615.27" y="70.6" width="1.3" height="5.0"/>
<rect x="613.92" y="70.1" width="4.0" height="6.0"/>
<rect x="619.21" y="67.5" width="1.3" height="13.8"/>
<rect x="617.86" y="70.8" width="4.0" height="7.2"/>
<rect x="623.14" y="73.1" width="1.3" height="23.8"/>
<rect x="621.79" y="79.5" width="4.0" height="5.4"/>
<rect x="627.08" y="56.2" width="1.3" height="28.2"/>
<rect x="625.73" y="57.6" width="4.0" height="23.5"/>
<rect x="631.01" y="32.9" width="1.3" height="25.6"/>
<rect x="629.37" y="34.8" width="4.6" height="20.4"/>
</g>
<g fill="#fff"><rect x="5.05" y="316.8" width="1.90" height="12.1"/><rect x="8.99" y="309.9" width="1.90" height="5.9"/><rect x="12.92" y="288.5" width="1.90" height="22.5"/><rect x="16.86" y="280.0" width="1.90" height="10.1"/><rect x="20.79" y="261.9" width="1.90" height="22.1"/><rect x="24.73" y="262.5" width="1.90" height="2.0"/><rect x="28.66" y="255.5" width="1.90" height="6.6"/><rect x="36.53" y="250.0" width="1.90" height="6.5"/><rect x="44.40" y="233.7" width="1.90" height="19.7"/><rect x="64.08" y="263.1" width="1.90" height="13.4"/><rect x="68.01" y="258.8" width="1.90" height="10.8"/><rect x="75.88" y="275.5" width="1.90" height="4.6"/><rect x="84.35" y="285.5" width="0.70" height="14.0"/><rect x="92.22" y="310.5" width="0.70" height="11.0"/><rect x="103.42" y="288.0" width="1.90" height="13.4"/><rect x="107.36" y="278.0" width="1.90" height="10.2"/><rect x="111.30" y="278.0" width="1.90" height="10.2"/><rect x="115.23" y="271.8" width="1.90" height="7.1"/><rect x="119.16" y="268.1" width="1.90" height="7.6"/><rect x="123.10" y="254.4" width="1.90" height="9.6"/><rect x="127.03" y="248.8" width="1.90" height="5.8"/><rect x="130.97" y="241.9" width="1.90" height="6.5"/><rect x="142.78" y="230.0" width="1.90" height="17.1"/><rect x="146.71" y="215.6" width="1.90" height="13.4"/><rect x="150.65" y="214.4" width="1.90" height="2.7"/><rect x="158.52" y="216.2" width="1.90" height="11.5"/><rect x="166.39" y="218.8" width="1.90" height="7.8"/><rect x="174.26" y="219.9" width="1.90" height="9.6"/><rect x="186.06" y="223.0" width="1.90" height="21.3"/><rect x="190.00" y="216.8" width="1.90" height="7.8"/><rect x="193.93" y="209.9" width="1.90" height="4.0"/><rect x="197.87" y="203.0" width="1.90" height="7.1"/><rect x="201.80" y="200.5" width="1.90" height="2.0"/><rect x="209.67" y="191.8" width="1.90" height="5.0"/><rect x="221.48" y="187.0" width="1.90" height="8.1"/><rect x="237.22" y="199.2" width="1.90" height="3.3"/><rect x="245.09" y="179.2" width="1.90" height="19.7"/><rect x="249.02" y="175.5" width="1.90" height="2.8"/><rect x="272.63" y="189.9" width="1.90" height="20.8"/><rect x="276.56" y="170.5" width="1.90" height="16.5"/><rect x="280.50" y="161.8" width="1.90" height="8.3"/><rect x="284.44" y="153.6" width="1.90" height="6.5"/><rect x="308.05" y="181.8" width="1.90" height="9.0"/><rect x="315.92" y="164.9" width="1.90" height="20.8"/><rect x="319.85" y="158.0" width="1.90" height="4.0"/><rect x="327.72" y="152.7" width="1.90" height="4.6"/><rect x="335.59" y="154.2" width="1.90" height="1.5"/><rect x="347.40" y="161.8" width="1.90" height="2.8"/><rect x="351.33" y="147.7" width="1.90" height="13.1"/><rect x="355.27" y="136.8" width="1.90" height="4.0"/><rect x="363.13" y="141.1" width="1.90" height="2.2"/><rect x="367.07" y="134.9" width="1.90" height="8.3"/><rect x="371.00" y="126.8" width="1.90" height="9.0"/><rect x="374.94" y="119.2" width="1.90" height="8.3"/><rect x="378.88" y="117.5" width="1.90" height="1.0"/><rect x="382.81" y="111.8" width="1.90" height="4.0"/><rect x="386.75" y="109.9" width="1.90" height="4.6"/><rect x="390.68" y="106.8" width="1.90" height="4.0"/><rect x="394.62" y="97.4" width="1.90" height="6.5"/><rect x="406.42" y="97.4" width="1.90" height="20.2"/><rect x="410.36" y="88.0" width="1.90" height="6.5"/><rect x="418.23" y="93.6" width="1.90" height="2.4"/><rect x="422.16" y="79.9" width="1.90" height="10.8"/><rect x="437.90" y="83.6" width="1.90" height="17.2"/><rect x="445.77" y="81.8" width="1.90" height="3.3"/><rect x="457.58" y="100.5" width="1.90" height="15.2"/><rect x="461.51" y="88.0" width="1.90" height="10.9"/><rect x="465.44" y="81.8" width="1.90" height="2.8"/><rect x="473.31" y="96.8" width="1.90" height="7.8"/><rect x="481.19" y="89.9" width="1.90" height="6.5"/><rect x="492.99" y="78.6" width="1.90" height="7.2"/><rect x="496.93" y="69.2" width="1.90" height="5.8"/><rect x="500.86" y="66.0" width="1.90" height="1.5"/><rect x="508.73" y="66.8" width="1.90" height="5.0"/><rect x="516.60" y="65.5" width="1.90" height="9.6"/><rect x="524.47" y="80.5" width="1.90" height="1.0"/><rect x="540.21" y="113.0" width="1.90" height="0.5"/><rect x="544.14" y="101.1" width="1.90" height="5.3"/><rect x="552.01" y="78.6" width="1.90" height="13.4"/><rect x="559.88" y="76.8" width="1.90" height="9.0"/><rect x="575.62" y="127.4" width="1.90" height="8.3"/><rect x="579.56" y="119.2" width="1.90" height="9.0"/><rect x="583.50" y="101.1" width="1.90" height="13.0"/><rect x="591.37" y="104.2" width="1.90" height="2.2"/><rect x="595.30" y="79.9" width="1.90" height="29.6"/><rect x="599.24" y="68.0" width="1.90" height="11.5"/><rect x="603.17" y="62.4" width="1.90" height="7.7"/><rect x="611.64" y="72.5" width="0.70" height="13.9"/><rect x="614.97" y="71.1" width="1.90" height="4.0"/><rect x="626.78" y="58.6" width="1.90" height="21.5"/><rect x="630.41" y="35.8" width="2.50" height="18.4"/></g>
</g>
<g clip-path="url(#cm)">
<g stroke="#0000ff" stroke-width="1" fill="none" shape-rendering="crispEdges">
<path d="M2.5 436.4V427.8"/>
<path d="M6.5 436.4V424.7"/>
<path d="M10.5 436.4V422.7"/>
<path d="M14.5 436.4V420.0"/>
<path d="M18.5 436.4V416.5"/>
<path d="M22.5 436.4V411.8"/>
<path d="M26.5 436.4V412.4"/>
<path d="M30.5 436.4V410.8"/>
<path d="M33.5 436.4V410.4"/>
<path d="M37.5 436.4V412.4"/>
<path d="M41.5 436.4V414.9"/>
<path d="M45.5 436.4V414.1"/>
<path d="M49.5 436.4V415.5"/>
<path d="M53.5 436.4V421.0"/>
<path d="M57.5 436.4V425.8"/>
<path d="M61.5 436.4V432.9"/>
<path d="M65.5 436.4V434.6"/>
<path d="M69.5 436.4V435.4"/>
<path d="M73.5 436.4V438.4"/>
<path d="M77.5 436.4V441.6"/>
<path d="M81.5 436.4V446.2"/>
<path d="M85.5 436.4V448.3"/>
<path d="M89.5 436.4V452.4"/>
<path d="M92.5 436.4V454.4"/>
<path d="M96.5 436.4V453.4"/>
<path d="M100.5 436.4V450.3"/>
<path d="M104.5 436.4V445.8"/>
<path d="M108.5 436.4V444.2"/>
<path d="M112.5 436.4V439.7"/>
<path d="M116.5 436.4V437.4"/>
<path d="M120.5 436.4V434.0"/>
<path d="M124.5 436.4V431.0"/>
<path d="M128.5 436.4V427.9"/>
<path d="M132.5 436.4V425.2"/>
<path d="M136.5 436.4V424.8"/>
<path d="M140.5 436.4V424.8"/>
<path d="M144.5 436.4V423.8"/>
<path d="M148.5 436.4V421.7"/>
<path d="M151.5 436.4V420.7"/>
<path d="M155.5 436.4V422.8"/>
<path d="M159.5 436.4V423.8"/>
<path d="M163.5 436.4V427.9"/>
<path d="M167.5 436.4V428.5"/>
<path d="M171.5 436.4V432.4"/>
<path d="M175.5 436.4V434.0"/>
<path d="M179.5 436.4V435.4"/>
<path d="M183.5 436.4V440.2"/>
<path d="M187.5 436.4V439.1"/>
<path d="M191.5 436.4V438.1"/>
<path d="M199.5 436.4V435.0"/>
<path d="M203.5 436.4V434.0"/>
<path d="M207.5 436.4V433.0"/>
<path d="M211.5 436.4V433.0"/>
<path d="M214.5 436.4V433.0"/>
<path d="M218.5 436.4V433.0"/>
<path d="M222.5 436.4V433.0"/>
<path d="M226.5 436.4V434.0"/>
<path d="M230.5 436.4V437.4"/>
<path d="M234.5 436.4V438.1"/>
<path d="M238.5 436.4V438.5"/>
<path d="M242.5 436.4V440.4"/>
<path d="M246.5 436.4V437.6"/>
<path d="M254.5 436.4V437.4"/>
<path d="M258.5 436.4V437.5"/>
<path d="M262.5 436.4V440.0"/>
<path d="M266.5 436.4V442.0"/>
<path d="M270.5 436.4V445.3"/>
<path d="M273.5 436.4V443.2"/>
<path d="M277.5 436.4V439.6"/>
<path d="M281.5 436.4V434.4"/>
<path d="M285.5 436.4V432.4"/>
<path d="M289.5 436.4V431.0"/>
<path d="M293.5 436.4V429.9"/>
<path d="M297.5 436.4V432.0"/>
<path d="M301.5 436.4V435.0"/>
<path d="M305.5 436.4V439.6"/>
<path d="M309.5 436.4V442.0"/>
<path d="M313.5 436.4V444.7"/>
<path d="M317.5 436.4V441.6"/>
<path d="M321.5 436.4V439.6"/>
<path d="M325.5 436.4V437.9"/>
<path d="M329.5 436.4V437.4"/>
<path d="M333.5 436.4V435.4"/>
<path d="M336.5 436.4V435.4"/>
<path d="M340.5 436.4V435.4"/>
<path d="M344.5 436.4V437.9"/>
<path d="M348.5 436.4V438.5"/>
<path d="M356.5 436.4V433.8"/>
<path d="M360.5 436.4V433.0"/>
<path d="M364.5 436.4V432.4"/>
<path d="M368.5 436.4V431.8"/>
<path d="M372.5 436.4V431.0"/>
<path d="M376.5 436.4V429.3"/>
<path d="M380.5 436.4V428.3"/>
<path d="M384.5 436.4V427.9"/>
<path d="M388.5 436.4V427.9"/>
<path d="M392.5 436.4V427.9"/>
<path d="M395.5 436.4V426.2"/>
<path d="M399.5 436.4V428.9"/>
<path d="M403.5 436.4V433.0"/>
<path d="M407.5 436.4V432.4"/>
<path d="M411.5 436.4V431.4"/>
<path d="M415.5 436.4V431.4"/>
<path d="M419.5 436.4V433.0"/>
<path d="M423.5 436.4V431.0"/>
<path d="M427.5 436.4V434.4"/>
<path d="M431.5 436.4V437.9"/>
<path d="M435.5 436.4V440.6"/>
<path d="M439.5 436.4V438.9"/>
<path d="M443.5 436.4V437.9"/>
<path d="M447.5 436.4V437.4"/>
<path d="M451.5 436.4V439.6"/>
<path d="M454.5 436.4V447.3"/>
<path d="M458.5 436.4V447.3"/>
<path d="M462.5 436.4V444.7"/>
<path d="M466.5 436.4V443.6"/>
<path d="M470.5 436.4V444.7"/>
<path d="M474.5 436.4V444.3"/>
<path d="M478.5 436.4V445.3"/>
<path d="M482.5 436.4V443.5"/>
<path d="M486.5 436.4V441.3"/>
<path d="M490.5 436.4V440.3"/>
<path d="M494.5 436.4V438.2"/>
<path d="M498.5 436.4V435.4"/>
<path d="M502.5 436.4V433.1"/>
<path d="M506.5 436.4V432.1"/>
<path d="M510.5 436.4V433.1"/>
<path d="M514.5 436.4V434.1"/>
<path d="M517.5 436.4V434.1"/>
<path d="M521.5 436.4V438.2"/>
<path d="M525.5 436.4V439.3"/>
<path d="M529.5 436.4V442.3"/>
<path d="M533.5 436.4V448.4"/>
<path d="M537.5 436.4V454.6"/>
<path d="M541.5 436.4V456.7"/>
<path d="M545.5 436.4V453.6"/>
<path d="M549.5 436.4V449.5"/>
<path d="M553.5 436.4V443.4"/>
<path d="M557.5 436.4V440.3"/>
<path d="M561.5 436.4V437.4"/>
<path d="M565.5 436.4V438.2"/>
<path d="M569.5 436.4V441.3"/>
<path d="M573.5 436.4V447.4"/>
<path d="M576.5 436.4V452.6"/>
<path d="M580.5 436.4V451.5"/>
<path d="M584.5 436.4V446.4"/>
<path d="M588.5 436.4V442.5"/>
<path d="M592.5 436.4V441.3"/>
<path d="M596.5 436.4V434.9"/>
<path d="M600.5 436.4V426.9"/>
<path d="M604.5 436.4V420.9"/>
<path d="M608.5 436.4V424.2"/>
<path d="M612.5 436.4V424.4"/>
<path d="M616.5 436.4V423.7"/>
<path d="M620.5 436.4V425.1"/>
<path d="M624.5 436.4V429.4"/>
<path d="M628.5 436.4V426.5"/>
<path d="M632.5 436.4V418.8"/>
</g>
<path d="M421 380.5h9M418 381.5h3M430 381.5h6M414 382.5h4M436 382.5h9M411 383.5h3M445 383.5h4M409 384.5h2M449 384.5h2M406 385.5h3M451 385.5h1M403 386.5h3M452 386.5h2M398 387.5h5M454 387.5h1M396 388.5h2M455 388.5h1M394 389.5h2M456 389.5h2M393 390.5h1M458 390.5h1M391 391.5h2M459 391.5h2M390 392.5h1M461 392.5h2M388 393.5h2M463 393.5h2M387 394.5h1M465 394.5h2M385 395.5h2M467 395.5h2M222 396.5h13M383 396.5h2M469 396.5h2M218 397.5h4M235 397.5h4M381 397.5h2M471 397.5h2M214 398.5h4M239 398.5h4M379 398.5h2M473 398.5h2M208 399.5h6M243 399.5h18M300 399.5h3M377 399.5h2M475 399.5h2M204 400.5h4M261 400.5h2M296 400.5h4M303 400.5h3M375 400.5h2M477 400.5h2M169 401.5h15M200 401.5h4M263 401.5h2M293 401.5h3M306 401.5h2M373 401.5h2M479 401.5h2M511 401.5h14M166 402.5h3M184 402.5h4M195 402.5h5M265 402.5h2M291 402.5h2M308 402.5h2M371 402.5h2M481 402.5h2M507 402.5h4M525 402.5h3M164 403.5h2M188 403.5h7M267 403.5h2M288 403.5h3M310 403.5h2M369 403.5h2M483 403.5h2M502 403.5h5M528 403.5h2M162 404.5h2M269 404.5h3M286 404.5h2M312 404.5h2M367 404.5h2M485 404.5h4M496 404.5h6M530 404.5h1M161 405.5h1M272 405.5h3M283 405.5h3M314 405.5h3M363 405.5h4M489 405.5h7M531 405.5h1M159 406.5h2M275 406.5h8M317 406.5h4M333 406.5h10M357 406.5h6M532 406.5h1M58 407.5h16M158 407.5h1M321 407.5h12M343 407.5h7M353 407.5h4M533 407.5h1M56 408.5h2M74 408.5h2M156 408.5h2M350 408.5h3M534 408.5h1M54 409.5h2M76 409.5h2M155 409.5h1M535 409.5h1M52 410.5h2M78 410.5h1M154 410.5h1M535 410.5h1M51 411.5h1M79 411.5h2M153 411.5h1M536 411.5h1M50 412.5h1M81 412.5h1M152 412.5h1M537 412.5h1M49 413.5h1M82 413.5h1M151 413.5h1M538 413.5h1M49 414.5h1M83 414.5h1M149 414.5h1M539 414.5h1M48 415.5h1M84 415.5h1M148 415.5h1M539 415.5h1M47 416.5h1M85 416.5h1M147 416.5h1M540 416.5h1M46 417.5h1M86 417.5h1M146 417.5h1M541 417.5h1M45 418.5h1M87 418.5h1M145 418.5h1M542 418.5h1M45 419.5h1M88 419.5h1M144 419.5h1M543 419.5h1M44 420.5h1M89 420.5h1M143 420.5h1M544 420.5h1M43 421.5h1M90 421.5h1M142 421.5h1M545 421.5h1M631 421.5h1M43 422.5h1M91 422.5h1M141 422.5h1M546 422.5h1M630 422.5h1M42 423.5h1M92 423.5h1M140 423.5h1M547 423.5h1M629 423.5h1M41 424.5h1M92 424.5h1M139 424.5h1M548 424.5h1M628 424.5h1M41 425.5h1M93 425.5h1M138 425.5h1M549 425.5h1M627 425.5h1M40 426.5h1M94 426.5h1M137 426.5h1M550 426.5h2M625 426.5h2M39 427.5h1M95 427.5h1M135 427.5h2M552 427.5h2M623 427.5h2M39 428.5h1M96 428.5h1M134 428.5h1M554 428.5h9M621 428.5h2M38 429.5h1M97 429.5h2M132 429.5h2M563 429.5h3M619 429.5h2M37 430.5h1M99 430.5h1M131 430.5h1M566 430.5h2M617 430.5h2M37 431.5h1M100 431.5h1M129 431.5h2M568 431.5h2M615 431.5h2M36 432.5h1M101 432.5h2M128 432.5h1M570 432.5h1M614 432.5h1M35 433.5h1M103 433.5h1M126 433.5h2M571 433.5h1M613 433.5h1M35 434.5h1M104 434.5h2M124 434.5h2M572 434.5h2M611 434.5h2M34 435.5h1M106 435.5h3M122 435.5h2M574 435.5h1M610 435.5h1M33 436.5h1M109 436.5h7M119 436.5h3M575 436.5h1M609 436.5h1M33 437.5h1M116 437.5h3M576 437.5h1M608 437.5h1M32 438.5h1M577 438.5h1M607 438.5h1M31 439.5h1M578 439.5h1M605 439.5h2M31 440.5h1M579 440.5h1M604 440.5h1M30 441.5h1M579 441.5h1M603 441.5h1M30 442.5h1M580 442.5h1M602 442.5h1M29 443.5h1M581 443.5h2M600 443.5h2M28 444.5h1M583 444.5h1M599 444.5h1M28 445.5h1M584 445.5h2M597 445.5h2M27 446.5h1M586 446.5h3M595 446.5h2M27 447.5h1M589 447.5h6M26 448.5h1M26 449.5h1M25 450.5h1M24 451.5h1M24 452.5h1M23 453.5h1M23 454.5h1M22 455.5h1M22 456.5h1M21 457.5h1M21 458.5h1M20 459.5h1M19 460.5h1M19 461.5h1M18 462.5h1M17 463.5h1M16 464.5h1M16 465.5h1M15 466.5h1M14 467.5h1M13 468.5h1M12 469.5h1M11 470.5h1M10 471.5h1M9 472.5h1M8 473.5h1M6 474.5h2M4 475.5h2M3 476.5h1M2 477.5h1M1 478.5h1M0 479.5h1" stroke="#000" stroke-width="1" fill="none" shape-rendering="crispEdges"/>
<path d="M422 375.5h3M418 376.5h4M425 376.5h1M411 377.5h7M426 377.5h1M410 378.5h1M427 378.5h1M395 379.5h6M408 379.5h2M428 379.5h1M393 380.5h2M401 380.5h1M407 380.5h1M429 380.5h1M392 381.5h1M402 381.5h1M406 381.5h1M429 381.5h1M391 382.5h1M403 382.5h1M405 382.5h1M389 383.5h2M404 383.5h1M431 383.5h1M388 384.5h1M432 384.5h1M387 385.5h1M433 385.5h1M438 385.5h11M385 386.5h2M434 386.5h4M448 386.5h1M384 387.5h1M449 387.5h1M382 388.5h2M449 388.5h1M381 389.5h1M450 389.5h1M379 390.5h2M450 390.5h1M377 391.5h2M451 391.5h1M223 392.5h5M375 392.5h2M451 392.5h1M219 393.5h4M228 393.5h1M374 393.5h1M452 393.5h1M159 394.5h4M165 394.5h4M213 394.5h6M229 394.5h1M373 394.5h1M452 394.5h1M48 395.5h6M157 395.5h2M163 395.5h2M169 395.5h2M210 395.5h3M230 395.5h1M292 395.5h7M372 395.5h1M452 395.5h1M47 396.5h1M54 396.5h2M155 396.5h2M171 396.5h1M208 396.5h2M231 396.5h1M290 396.5h2M299 396.5h1M371 396.5h1M453 396.5h1M45 397.5h2M56 397.5h1M153 397.5h2M172 397.5h3M205 397.5h3M232 397.5h1M288 397.5h2M300 397.5h2M370 397.5h1M453 397.5h1M44 398.5h1M57 398.5h1M151 398.5h2M175 398.5h3M203 398.5h2M234 398.5h1M250 398.5h6M287 398.5h1M369 398.5h1M454 398.5h1M508 398.5h4M44 399.5h1M57 399.5h1M150 399.5h1M178 399.5h2M201 399.5h2M235 399.5h1M248 399.5h2M256 399.5h1M286 399.5h1M302 399.5h1M368 399.5h1M455 399.5h1M504 399.5h4M512 399.5h5M43 400.5h1M58 400.5h1M149 400.5h1M180 400.5h1M199 400.5h2M236 400.5h2M246 400.5h2M257 400.5h1M285 400.5h1M303 400.5h1M366 400.5h2M456 400.5h1M464 400.5h3M502 400.5h2M517 400.5h3M42 401.5h1M59 401.5h1M148 401.5h1M181 401.5h1M197 401.5h2M238 401.5h3M242 401.5h4M258 401.5h1M284 401.5h1M304 401.5h1M363 401.5h3M457 401.5h1M461 401.5h3M467 401.5h1M500 401.5h2M520 401.5h1M42 402.5h1M60 402.5h1M148 402.5h1M181 402.5h1M195 402.5h2M241 402.5h1M259 402.5h1M283 402.5h1M304 402.5h1M360 402.5h3M458 402.5h3M468 402.5h1M499 402.5h1M521 402.5h1M41 403.5h1M61 403.5h1M147 403.5h1M182 403.5h1M194 403.5h1M260 403.5h1M282 403.5h1M305 403.5h1M358 403.5h2M469 403.5h1M498 403.5h1M522 403.5h1M631 403.5h1M40 404.5h1M62 404.5h2M146 404.5h1M182 404.5h1M192 404.5h2M261 404.5h1M281 404.5h1M306 404.5h1M339 404.5h2M356 404.5h2M470 404.5h1M497 404.5h1M523 404.5h1M631 404.5h1M39 405.5h1M64 405.5h4M145 405.5h1M183 405.5h2M189 405.5h3M262 405.5h1M280 405.5h1M307 405.5h1M333 405.5h6M341 405.5h1M355 405.5h1M471 405.5h2M495 405.5h2M524 405.5h1M630 405.5h1M37 406.5h2M68 406.5h2M144 406.5h1M185 406.5h4M263 406.5h1M279 406.5h1M307 406.5h1M330 406.5h3M342 406.5h1M354 406.5h1M473 406.5h1M494 406.5h1M525 406.5h1M630 406.5h1M36 407.5h1M70 407.5h1M144 407.5h1M264 407.5h1M279 407.5h1M308 407.5h1M328 407.5h2M343 407.5h1M353 407.5h1M474 407.5h1M492 407.5h2M526 407.5h1M630 407.5h1M36 408.5h1M71 408.5h1M143 408.5h1M265 408.5h1M278 408.5h1M309 408.5h1M325 408.5h3M344 408.5h2M351 408.5h2M475 408.5h2M490 408.5h2M527 408.5h1M629 408.5h1M35 409.5h1M72 409.5h1M142 409.5h1M266 409.5h1M277 409.5h1M310 409.5h1M323 409.5h2M346 409.5h2M349 409.5h2M477 409.5h2M487 409.5h3M528 409.5h1M629 409.5h1M34 410.5h1M73 410.5h1M141 410.5h1M267 410.5h1M276 410.5h1M311 410.5h1M319 410.5h4M348 410.5h1M479 410.5h8M529 410.5h1M629 410.5h1M33 411.5h1M74 411.5h1M141 411.5h1M268 411.5h1M275 411.5h1M311 411.5h1M317 411.5h2M530 411.5h1M628 411.5h1M32 412.5h1M74 412.5h1M140 412.5h1M269 412.5h1M274 412.5h1M312 412.5h1M315 412.5h2M530 412.5h1M628 412.5h1M32 413.5h1M75 413.5h1M139 413.5h1M270 413.5h4M314 413.5h1M530 413.5h1M627 413.5h1M31 414.5h1M76 414.5h1M137 414.5h2M531 414.5h1M627 414.5h1M31 415.5h1M76 415.5h1M136 415.5h1M531 415.5h1M627 415.5h1M30 416.5h1M77 416.5h1M134 416.5h2M532 416.5h1M626 416.5h1M29 417.5h1M78 417.5h1M132 417.5h2M532 417.5h1M625 417.5h1M29 418.5h1M78 418.5h1M131 418.5h1M533 418.5h1M618 418.5h5M625 418.5h1M28 419.5h1M79 419.5h1M130 419.5h1M533 419.5h1M616 419.5h2M623 419.5h2M28 420.5h1M79 420.5h1M129 420.5h1M533 420.5h1M614 420.5h2M27 421.5h1M80 421.5h1M128 421.5h1M534 421.5h1M613 421.5h1M27 422.5h1M81 422.5h1M127 422.5h1M534 422.5h1M612 422.5h1M26 423.5h1M81 423.5h1M126 423.5h1M535 423.5h1M611 423.5h1M26 424.5h1M82 424.5h1M126 424.5h1M535 424.5h1M609 424.5h2M25 425.5h1M83 425.5h1M125 425.5h1M536 425.5h1M604 425.5h5M24 426.5h1M83 426.5h1M124 426.5h1M536 426.5h1M603 426.5h1M24 427.5h1M84 427.5h1M123 427.5h1M536 427.5h1M603 427.5h1M23 428.5h1M85 428.5h1M122 428.5h1M537 428.5h1M602 428.5h1M23 429.5h1M85 429.5h1M122 429.5h1M537 429.5h1M562 429.5h1M602 429.5h1M23 430.5h1M86 430.5h1M121 430.5h1M538 430.5h1M560 430.5h2M563 430.5h2M601 430.5h1M22 431.5h1M86 431.5h1M120 431.5h1M538 431.5h1M559 431.5h1M565 431.5h1M601 431.5h1M22 432.5h1M87 432.5h1M119 432.5h1M539 432.5h1M557 432.5h2M566 432.5h1M601 432.5h1M21 433.5h1M87 433.5h1M118 433.5h1M539 433.5h1M555 433.5h2M566 433.5h1M600 433.5h1M21 434.5h1M88 434.5h1M117 434.5h1M540 434.5h1M554 434.5h1M566 434.5h1M600 434.5h1M20 435.5h1M88 435.5h1M117 435.5h1M541 435.5h1M552 435.5h2M567 435.5h1M599 435.5h1M20 436.5h1M89 436.5h1M116 436.5h1M541 436.5h1M551 436.5h1M567 436.5h1M599 436.5h1M19 437.5h1M90 437.5h1M115 437.5h1M542 437.5h1M550 437.5h1M568 437.5h1M599 437.5h1M19 438.5h1M90 438.5h1M114 438.5h1M543 438.5h1M549 438.5h1M568 438.5h1M598 438.5h1M18 439.5h1M91 439.5h1M113 439.5h1M544 439.5h1M549 439.5h1M569 439.5h1M598 439.5h1M18 440.5h1M92 440.5h1M112 440.5h1M545 440.5h4M569 440.5h1M598 440.5h1M17 441.5h1M93 441.5h1M111 441.5h1M569 441.5h1M597 441.5h1M17 442.5h1M94 442.5h1M110 442.5h1M570 442.5h1M597 442.5h1M16 443.5h1M95 443.5h1M108 443.5h2M570 443.5h1M596 443.5h1M16 444.5h1M96 444.5h2M105 444.5h3M571 444.5h1M596 444.5h1M15 445.5h1M98 445.5h7M571 445.5h1M596 445.5h1M15 446.5h1M572 446.5h1M595 446.5h1M14 447.5h1M572 447.5h1M595 447.5h1M14 448.5h1M573 448.5h1M594 448.5h1M13 449.5h1M573 449.5h1M594 449.5h1M13 450.5h1M574 450.5h1M593 450.5h1M12 451.5h1M575 451.5h1M592 451.5h1M12 452.5h1M575 452.5h1M591 452.5h1M11 453.5h1M576 453.5h1M589 453.5h2M11 454.5h1M577 454.5h1M587 454.5h2M10 455.5h1M578 455.5h1M586 455.5h1M10 456.5h1M579 456.5h1M584 456.5h2M9 457.5h1M580 457.5h4M9 458.5h1M8 459.5h1M8 460.5h1M7 461.5h1M6 462.5h1M5 463.5h1M5 464.5h1M4 465.5h1M3 466.5h1M1 467.5h2M0 468.5h1" stroke="#ff0000" stroke-width="1" fill="none" shape-rendering="crispEdges"/>
</g>
<g stroke="#000" fill="none" shape-rendering="auto">
<path d="M677.55 0V489" stroke-width="1.25" shape-rendering="crispEdges"/>
<path d="M0 365.5H678" stroke-width="1" shape-rendering="crispEdges"/>
<path d="M0 488.5H678" stroke-width="1" shape-rendering="crispEdges"/>
<path d="M677.5 355.5h3.6 M677.5 346.5h3.6 M677.5 338.5h3.6 M677.5 329.5h3.6 M677.5 320.5h7.6 M677.5 312.5h3.6 M677.5 304.5h3.6 M677.5 296.5h3.6 M677.5 288.5h3.6 M677.5 281.5h7.6 M677.5 273.5h3.6 M677.5 266.5h3.6 M677.5 258.5h3.6 M677.5 251.5h3.6 M677.5 244.5h7.6 M677.5 237.5h3.6 M677.5 230.5h3.6 M677.5 223.5h3.6 M677.5 216.5h3.6 M677.5 209.5h7.6 M677.5 203.5h3.6 M677.5 196.5h3.6 M677.5 190.5h3.6 M677.5 183.5h3.6 M677.5 177.5h7.6 M677.5 171.5h3.6 M677.5 165.5h3.6 M677.5 159.5h3.6 M677.5 153.5h3.6 M677.5 147.5h7.6 M677.5 141.5h3.6 M677.5 135.5h3.6 M677.5 129.5h3.6 M677.5 124.5h3.6 M677.5 118.5h7.6 M677.5 113.5h3.6 M677.5 107.5h3.6 M677.5 102.5h3.6 M677.5 96.5h3.6 M677.5 91.5h7.6 M677.5 86.5h3.6 M677.5 81.5h3.6 M677.5 75.5h3.6 M677.5 70.5h3.6 M677.5 66.5h7.6 M677.5 60.5h3.6 M677.5 56.5h3.6 M677.5 51.5h3.6 M677.5 46.5h3.6 M677.5 41.5h7.6 M677.5 36.5h3.6 M677.5 32.5h3.6 M677.5 27.5h3.6 M677.5 22.5h3.6 M677.5 18.5h7.6 M677.5 13.5h3.6 M677.5 9.5h3.6 M677.5 4.5h3.6 M677.5 0.5h3.6 M677.5 481.5h3.6 M677.5 472.5h7.6 M677.5 463.5h3.6 M677.5 454.5h7.6 M677.5 445.5h3.6 M677.5 436.5h7.6 M677.5 427.5h3.6 M677.5 418.5h7.6 M677.5 409.5h3.6 M677.5 400.5h7.6 M677.5 391.5h3.6 M677.5 382.5h7.6 M677.5 373.5h3.6" stroke-width="1" shape-rendering="crispEdges"/>
<path d="M6.5 488.4V503 M22.5 488.4V503 M38.5 488.4V503 M57.5 488.4V503 M73.5 488.4V503 M89.5 488.4V503 M108.5 488.4V503 M124.5 488.4V503 M143.5 488.4V503 M159.5 488.4V503 M175.5 488.4V503 M195.5 488.4V503 M211.5 488.4V503 M227.5 488.4V503 M243.5 488.4V503 M262.5 488.4V503 M278.5 488.4V503 M297.5 488.4V503 M313.5 488.4V503 M329.5 488.4V503 M348.5 488.4V503 M364.5 488.4V503 M380.5 488.4V503 M400.5 488.4V503 M416.5 488.4V503 M435.5 488.4V503 M451.5 488.4V503 M467.5 488.4V503 M483.5 488.4V503 M502.5 488.4V503 M517.5 488.4V503 M533.5 488.4V503 M553.5 488.4V503 M568.5 488.4V503 M589.5 488.4V503 M604.5 488.4V503 M620.5 488.4V503 M640.5 488.4V503 M655.5 488.4V503 M671.5 488.4V503" stroke-width="1" shape-rendering="crispEdges"/>
</g>
<g fill="#000" font-size="12px" text-anchor="end">
<text x="721.4" y="327.0">6000</text>
<text x="721.4" y="288.0">6500</text>
<text x="721.4" y="251.0">7000</text>
<text x="721.4" y="216.0">7500</text>
<text x="721.4" y="184.0">8000</text>
<text x="721.4" y="154.0">8500</text>
<text x="721.4" y="125.0">9000</text>
<text x="721.4" y="98.0">9500</text>
<text x="721.4" y="73.0">10000</text>
<text x="721.4" y="48.0">10500</text>
<text x="721.4" y="25.0">11000</text>
<text x="721.4" y="389.2">300</text>
<text x="721.4" y="407.1">200</text>
<text x="721.4" y="425.1">100</text>
<text x="721.4" y="443.1">0</text>
<text x="721.4" y="461.1">-100</text>
<text x="721.4" y="479.1">-200</text>
</g>
<defs><clipPath id="cb"><rect x="0" y="488.4" width="677.4" height="20"/></clipPath></defs>
<g fill="#000" font-size="10.8px" clip-path="url(#cb)">
<text x="7.7" y="500.9" dx="0 0 0 1.6">2012</text>
<text x="58.7" y="500.9">A</text>
<text x="74.7" y="500.9">M</text>
<text x="90.7" y="500.9">J</text>
<text x="109.7" y="500.9">J</text>
<text x="125.7" y="500.9">A</text>
<text x="144.7" y="500.9">S</text>
<text x="160.7" y="500.9">O</text>
<text x="176.7" y="500.9">N</text>
<text x="196.7" y="500.9">D</text>
<text x="212.7" y="500.9" dx="0 0 0 0.6">2013</text>
<text x="263.7" y="500.9">A</text>
<text x="279.7" y="500.9">M</text>
<text x="298.7" y="500.9">J</text>
<text x="314.7" y="500.9">J</text>
<text x="330.7" y="500.9">A</text>
<text x="349.7" y="500.9">S</text>
<text x="365.7" y="500.9">O</text>
<text x="381.7" y="500.9">N</text>
<text x="401.7" y="500.9">D</text>
<text x="417.7" y="500.9" dx="0 0 0 0.6">2014</text>
<text x="452.7" y="500.9">M</text>
<text x="468.7" y="500.9">A</text>
<text x="484.7" y="500.9">M</text>
<text x="503.7" y="500.9">J</text>
<text x="518.7" y="500.9">J</text>
<text x="534.7" y="500.9">A</text>
<text x="554.7" y="500.9">S</text>
<text x="569.7" y="500.9">O</text>
<text x="590.7" y="500.9">N</text>
<text x="605.7" y="500.9">D</text>
<text x="621.7" y="500.9" dx="0 0 0 0.6">2015</text>
<text x="656.7" y="500.9">M</text>
<text x="672.7" y="500.9">A</text>
</g>
<text x="269.6" y="26.2" font-size="19.6px" fill="#000">DAX auf Wochenbasis</text>
<text x="11" y="23.3" font-size="14.45px" fill="#727272">www.chartbuero.de</text>
<text x="540.3" y="345.2" font-size="11.9px" fill="#727272">Hoppenstedt Charts</text>
<text x="209.5" y="468.3" dx="0 0 2.3" font-size="12.05px" fill="#000">MACD (12/26/9 Wochen) mit Histogramm</text>
</svg>
</body></html>
